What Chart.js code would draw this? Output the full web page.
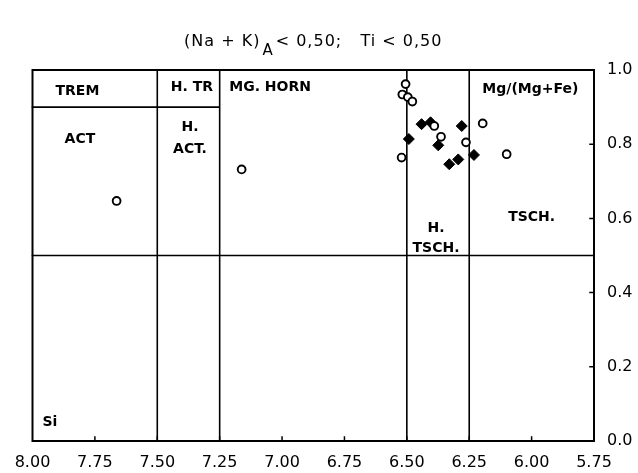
<!DOCTYPE html>
<html>
<head>
<meta charset="utf-8">
<script src="https://cdn.jsdelivr.net/npm/chart.js@4"></script>
<style>
  html, body { margin: 0; padding: 0; background: #fff; }
</style>
</head>
<body>
<canvas id="amphChart" width="638" height="473"></canvas>
<script>
// Si (apfu) vs Mg/(Mg+Fe) for the analysed amphiboles
const openSi  = [7.663, 7.162, 6.505, 6.518, 6.496, 6.478, 6.390, 6.363, 6.521, 6.263, 6.196, 6.100];
const openMg  = [0.647, 0.732, 0.962, 0.934, 0.927, 0.915, 0.849, 0.820, 0.764, 0.805, 0.856, 0.773];
const filledSi = [6.441, 6.405, 6.374, 6.492, 6.330, 6.294, 6.280, 6.231];
const filledMg = [0.854, 0.859, 0.797, 0.814, 0.746, 0.759, 0.849, 0.771];

const xTicks = [8.00, 7.75, 7.50, 7.25, 7.00, 6.75, 6.50, 6.25, 6.00, 5.75];
const yTicks = [0.0, 0.2, 0.4, 0.6, 0.8, 1.0];

// field boundaries of the classification diagram
const siBounds = [7.50, 7.25, 6.50, 6.25];
const mgSplit = 0.5;
const tremSplit = 0.9;   // only between Si 8.00 and 7.25

const fieldLabels = [
  { text: 'TREM',       si: 7.82,  mg: 0.943 },
  { text: 'H. TR',      si: 7.361, mg: 0.954 },
  { text: 'MG. HORN',   si: 7.048, mg: 0.954 },
  { text: 'Mg/(Mg+Fe)', si: 6.005, mg: 0.949 },
  { text: 'ACT',        si: 7.81,  mg: 0.814 },
  { text: 'H.',         si: 7.369, mg: 0.846 },
  { text: 'ACT.',       si: 7.369, mg: 0.786 },
  { text: 'H.',         si: 6.383, mg: 0.573 },
  { text: 'TSCH.',      si: 6.383, mg: 0.519 },
  { text: 'TSCH.',      si: 6.0,   mg: 0.603 },
  { text: 'Si',         si: 7.93,  mg: 0.051 }
];

const toPoints = (xs, ys) => xs.map((x, i) => ({ x: x, y: ys[i] }));

const diagramPlugin = {
  id: 'diagram',
  beforeDatasetsDraw(chart) {
    const ctx = chart.ctx;
    const xs = chart.scales.x, ys = chart.scales.y;
    const a = chart.chartArea;
    const px = v => xs.getPixelForValue(v);
    const py = v => ys.getPixelForValue(v);

    ctx.save();
    ctx.strokeStyle = '#000';
    ctx.lineCap = 'square';

    // outer frame
    ctx.lineWidth = 2;
    ctx.strokeRect(a.left, a.top, a.right - a.left, a.bottom - a.top);

    // boundaries
    ctx.lineWidth = 1.6;
    ctx.beginPath();
    siBounds.forEach(s => {
      ctx.moveTo(px(s), a.top);
      ctx.lineTo(px(s), a.bottom);
    });
    ctx.moveTo(a.left, py(mgSplit));
    ctx.lineTo(a.right, py(mgSplit));
    ctx.moveTo(px(8.0), py(tremSplit));
    ctx.lineTo(px(7.25), py(tremSplit));
    ctx.stroke();

    // small inward ticks
    ctx.lineWidth = 1.5;
    ctx.beginPath();
    xTicks.slice(1, -1).forEach(t => {
      ctx.moveTo(px(t), a.bottom);
      ctx.lineTo(px(t), a.bottom - 4);
    });
    yTicks.slice(1, -1).forEach(t => {
      ctx.moveTo(a.right, py(t));
      ctx.lineTo(a.right - 4, py(t));
    });
    ctx.stroke();

    // field names
    ctx.fillStyle = '#000';
    ctx.font = 'bold 14px "DejaVu Sans"';
    ctx.textAlign = 'center';
    ctx.textBaseline = 'middle';
    fieldLabels.forEach(l => ctx.fillText(l.text, px(l.si), py(l.mg)));

    // header with subscript A
    const cx = (a.left + a.right) / 2;
    const partA = '(Na + K)';
    const partB = '< 0,50;   Ti < 0,50';
    ctx.letterSpacing = '1px';
    ctx.font = '16px "DejaVu Sans"';
    const wA = ctx.measureText(partA).width;
    const wB = ctx.measureText(partB).width;
    ctx.font = '15px "DejaVu Sans"';
    const wSub = ctx.measureText('A').width;
    const x0 = cx - (wA + wSub + 4 + wB) / 2;
    ctx.textAlign = 'left';
    ctx.font = '16px "DejaVu Sans"';
    ctx.fillText(partA, x0, 42);
    ctx.font = '15px "DejaVu Sans"';
    ctx.fillText('A', x0 + wA + 2, 51);
    ctx.font = '16px "DejaVu Sans"';
    ctx.fillText(partB, x0 + wA + wSub + 4, 42);
    ctx.restore();
  }
};

const ctx = document.getElementById('amphChart').getContext('2d');
const amphChart = new Chart(ctx, {
  type: 'scatter',
  data: {
    datasets: [
      {
        label: 'open',
        data: toPoints(openSi, openMg),
        pointStyle: 'circle',
        pointRadius: 3.9,
        pointBackgroundColor: '#fff',
        pointBorderColor: '#000',
        pointBorderWidth: 1.9
      },
      {
        label: 'filled',
        data: toPoints(filledSi, filledMg),
        pointStyle: 'rectRot',
        pointRadius: 5.5,
        pointBackgroundColor: '#000',
        pointBorderColor: '#000',
        pointBorderWidth: 1
      }
    ]
  },
  options: {
    responsive: false,
    animation: false,
    layout: { padding: { left: 32.5, top: 70, right: 0, bottom: 0 } },
    plugins: { legend: { display: false }, tooltip: { enabled: false } },
    scales: {
      x: {
        type: 'linear',
        reverse: true,
        min: 5.75,
        max: 8.0,
        afterBuildTicks: s => { s.ticks = xTicks.map(v => ({ value: v })); },
        afterFit: s => { s.height = 32; },
        grid: { display: false, drawTicks: false },
        border: { display: false },
        ticks: {
          padding: 12,
          color: '#000',
          maxRotation: 0,
          autoSkip: false,
          font: { family: 'DejaVu Sans', size: 16 },
          callback: v => Number(v).toFixed(2)
        }
      },
      y: {
        type: 'linear',
        position: 'right',
        min: 0,
        max: 1,
        afterBuildTicks: s => { s.ticks = yTicks.map(v => ({ value: v })); },
        afterFit: s => { s.width = 44; },
        grid: { display: false, drawTicks: false },
        border: { display: false },
        ticks: {
          padding: 13,
          color: '#000',
          font: { family: 'DejaVu Sans', size: 16 },
          callback: v => Number(v).toFixed(1)
        }
      }
    }
  },
  plugins: [diagramPlugin]
});
</script>
</body>
</html>
